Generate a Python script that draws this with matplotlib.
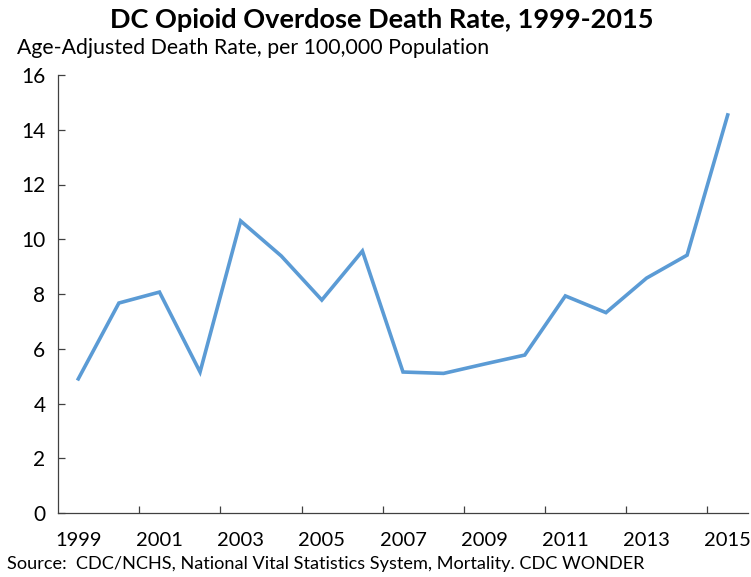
import matplotlib.pyplot as plt

years = list(range(1999, 2016))
rates = [4.9, 7.67, 8.07, 5.15, 10.67, 9.39, 7.78, 9.57, 5.15,
         5.10, 5.44, 5.77, 7.93, 7.32, 8.58, 9.42, 14.54]
label_years = [str(y) for y in years[::2]]

plt.rcParams['font.family'] = ['Lato', 'DejaVu Sans']

fig = plt.figure(figsize=(7.51, 5.77), dpi=100)
ax = fig.add_axes([58 / 751, 64 / 577, 690 / 751, 438 / 577])

x = list(range(len(years)))
ax.plot(x, rates, color='#5B9BD5', linewidth=2.6, solid_joinstyle='miter')

ax.set_xlim(-0.5, len(years) - 0.5)
ax.set_ylim(0, 16)
ax.set_yticks(range(0, 17, 2))

# category axis: ticks sit between categories, labels every other year
ax.set_xticks([i + 1.5 for i in range(0, len(years) - 1, 2)])
ax.set_xticklabels([])
ax.set_xticks(x[::2], minor=True)
ax.set_xticklabels(label_years, minor=True)
ax.tick_params(axis='x', which='major', direction='in', length=5, width=0.9, color='#404040')
ax.tick_params(axis='x', which='minor', length=0, pad=14, labelsize=14.5)
ax.tick_params(axis='y', direction='in', length=5, width=0.9, color='#404040', labelsize=15, pad=9)

for side in ['top', 'right']:
    ax.spines[side].set_visible(False)
for side in ['left', 'bottom']:
    ax.spines[side].set_color('#404040')
    ax.spines[side].set_linewidth(0.9)

fig.text(0.508, 0.966, 'DC Opioid Overdose Death Rate, 1999-2015', ha='center', va='center',
         fontsize=19.5, fontweight='bold')
fig.text(17 / 751, 0.916, 'Age-Adjusted Death Rate, per 100,000 Population', ha='left', va='center',
         fontsize=15.3)
fig.text(7 / 751, 0.022, 'Source:  CDC/NCHS, National Vital Statistics System, Mortality. CDC WONDER',
         ha='left', va='center', fontsize=13.1)

fig.savefig('out.png', dpi=100)
